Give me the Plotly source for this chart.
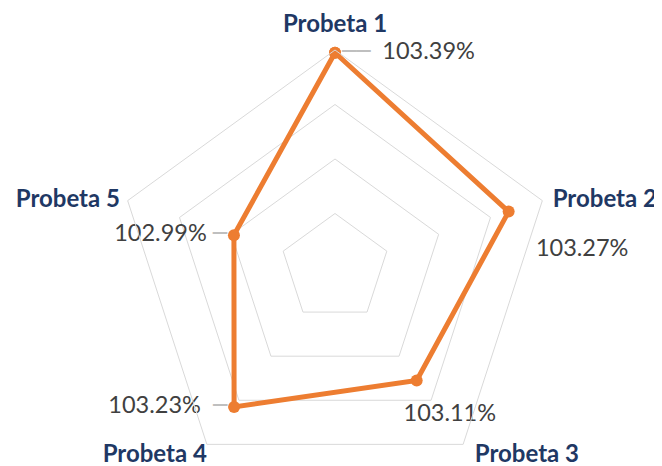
import plotly.graph_objects as go

# ---- data ----
categories = ["Probeta 1", "Probeta 2", "Probeta 3", "Probeta 4", "Probeta 5"]
values = [103.39, 103.27, 103.11, 103.23, 102.99]
value_labels = ["103.39%", "103.27%", "103.11%", "103.23%", "102.99%"]
radial_range = [102.6, 103.4]
radial_step = 0.2

# ---- styles ----
ORANGE = "#ED7D31"
GRID = "#D9D9D9"
NAVY = "#1F3864"
LABEL = "#404040"
LEADER = "#BFBFBF"
FONT = "Lato"

theta_closed = categories + categories[:1]
r_closed = values + values[:1]

NB = "\u00a0"
def leader(n):
    return ('<span style="font-family:DejaVu Sans Mono;color:%s">' % LEADER) + ("\u2500" * n) + "</span>"

fig = go.Figure()

# data series
fig.add_trace(go.Scatterpolar(
    r=r_closed, theta=theta_closed, mode="lines+markers",
    line=dict(color=ORANGE, width=5),
    marker=dict(color=ORANGE, size=12),
    hoverinfo="skip", cliponaxis=False, showlegend=False,
))

# value data labels (offset from each point via invisible marker size)
val_text = [
    leader(2) + NB * 2 + value_labels[0],
    value_labels[1],
    NB * 11 + value_labels[2],
    value_labels[3] + NB * 2 + leader(1),
    value_labels[4] + NB + leader(1),
]
fig.add_trace(go.Scatterpolar(
    r=values, theta=categories, mode="markers+text",
    text=val_text,
    textposition=["middle right", "bottom right", "bottom center", "middle left", "middle left"],
    marker=dict(size=[9.6, 42, 35, 9.6, 9.6], color="rgba(0,0,0,0)",
                opacity=0, line=dict(width=0)),
    textfont=dict(family=FONT, size=23.5, color=LABEL),
    hoverinfo="skip", cliponaxis=False, showlegend=False,
))

# category labels placed at the outer ring of the radial axis
cat_text = list(categories)
cat_text[2] = NB * 2 + cat_text[2]
fig.add_trace(go.Scatterpolar(
    r=[radial_range[1]] * len(categories), theta=categories, mode="markers+text",
    text=cat_text,
    textposition=["top center", "middle right", "bottom right", "bottom left", "middle left"],
    marker=dict(size=[17.6, 15, 0, 0, 10.7], color="rgba(0,0,0,0)",
                opacity=0, line=dict(width=0)),
    textfont=dict(family=FONT, size=24, color=NAVY, weight="bold"),
    hoverinfo="skip", cliponaxis=False, showlegend=False,
))

fig.update_layout(
    width=662, height=482,
    margin=dict(l=109, r=117, t=42, b=4),
    paper_bgcolor="white",
    plot_bgcolor="white",
    showlegend=False,
    polar=dict(
        gridshape="linear",
        bgcolor="white",
        radialaxis=dict(
            range=radial_range, tick0=radial_range[0], dtick=radial_step,
            showticklabels=False, ticks="", showline=False,
            gridcolor=GRID, gridwidth=1,
        ),
        angularaxis=dict(
            rotation=90, direction="clockwise",
            showgrid=False, showticklabels=False, ticks="",
            showline=True, linecolor=GRID, linewidth=1,
        ),
    ),
)

fig.write_html("out.html")
